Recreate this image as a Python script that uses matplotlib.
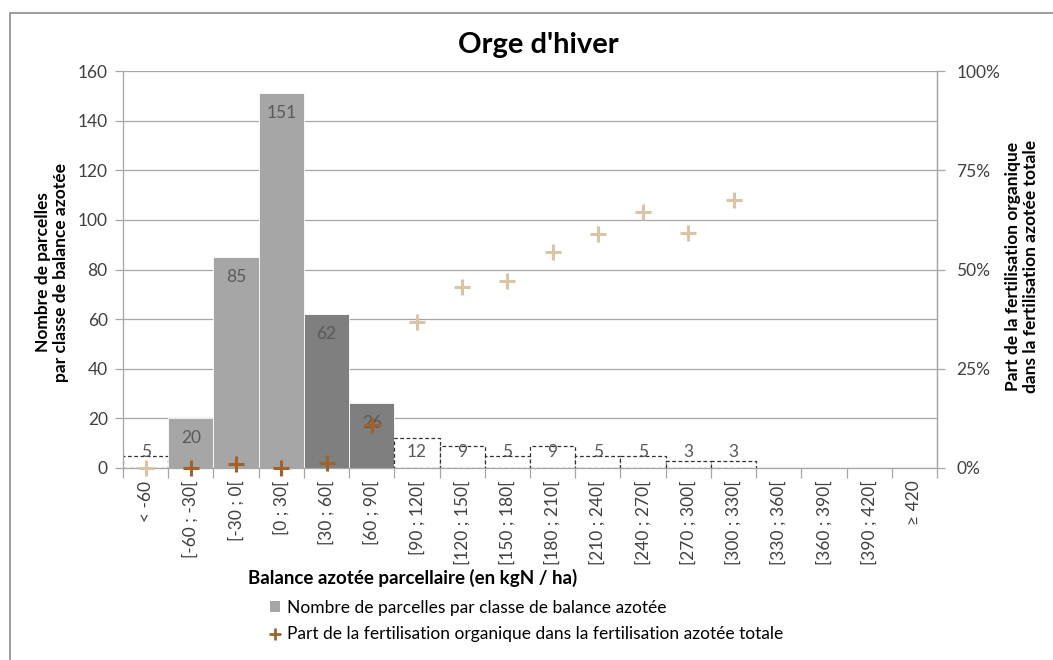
import matplotlib
matplotlib.use("Agg")
import matplotlib.pyplot as plt
import numpy as np
from matplotlib.patches import Rectangle, Patch
from matplotlib.lines import Line2D

plt.rcParams['font.family'] = ['Lato', 'DejaVu Sans']

# ---------------- data ----------------
categories = ["< -60", "[-60 ; -30[", "[-30 ; 0[", "[0 ; 30[", "[30 ; 60[", "[60 ; 90[",
              "[90 ; 120[", "[120 ; 150[", "[150 ; 180[", "[180 ; 210[", "[210 ; 240[",
              "[240 ; 270[", "[270 ; 300[", "[300 ; 330[", "[330 ; 360[", "[360 ; 390[",
              "[390 ; 420[", "≥ 420"]
counts = [5, 20, 85, 151, 62, 26, 12, 9, 5, 9, 5, 5, 3, 3, 0, 0, 0, 0]
organic_share = [0.0, 0.0, 0.01, 0.0, 0.013, 0.108, 0.368, 0.456, 0.472, 0.545, 0.59,
                 0.646, 0.593, 0.676, None, None, None, None]
left_ticks = [0, 20, 40, 60, 80, 100, 120, 140, 160]
right_ticks = [0, 0.25, 0.5, 0.75, 1.0]

title = "Orge d'hiver"
xlabel = "Balance azotée parcellaire (en kgN / ha)"
ylabel_left = "Nombre de parcelles\npar classe de balance azotée"
ylabel_right = "Part de la fertilisation organique\ndans la fertilisation azotée totale"
legend_bar = "Nombre de parcelles par classe de balance azotée"
legend_pts = "Part de la fertilisation organique dans la fertilisation azotée totale"

# ---------------- style ----------------
LIGHT = "#A6A6A6"
DARK = "#7F7F7F"
BROWN = "#A0622A"
TAN = "#D9C4A6"
GRID = "#A6A6A6"
FS = 12.5
# bar style per category: 'light', 'dark' or 'dashed'
bar_style = ['dashed', 'light', 'light', 'light', 'dark', 'dark'] + ['dashed'] * 12
marker_dark = [False, True, True, True, True, True] + [False] * 12

W, H = 1053, 660
fig = plt.figure(figsize=(W / 100, H / 100), dpi=100)
fig.patch.set_facecolor("white")

# outer chart frame
fig.patches.append(Rectangle((10 / W, -0.2), 2, (1 - 13 / H) + 0.2, transform=fig.transFigure,
                             fill=False, edgecolor="#8C8C8C", linewidth=1.2, zorder=0))

L, R, T, B = 123, 937, 71, 468
ax = fig.add_axes([L / W, 1 - B / H, (R - L) / W, (B - T) / H])
ax.set_facecolor("none")
ax.set_xlim(-0.5, len(categories) - 0.5)
ax.set_ylim(0, 160)

x = np.arange(len(categories))

# bars
for i, (v, st) in enumerate(zip(counts, bar_style)):
    if v <= 0:
        continue
    if st == 'light':
        ax.bar(x[i], v, width=1.0, color=LIGHT, edgecolor="white", linewidth=0.6, zorder=2)
    elif st == 'dark':
        ax.bar(x[i], v, width=1.0, color=DARK, edgecolor="white", linewidth=0.6, zorder=2)
    else:
        ax.bar(x[i], v, width=1.0, facecolor="white", edgecolor="#303030", linewidth=0.9,
               linestyle=(0, (3, 2)), zorder=2)

# bar value labels (inside end, clamped near the axis)
for i, v in enumerate(counts):
    if v <= 0:
        continue
    ypos = max(v - 8.0, 6.4)
    ax.text(x[i], ypos, str(v), ha="center", va="center", color="#595959",
            fontsize=FS, zorder=4)

# gridlines
ax.set_yticks(left_ticks)
ax.yaxis.grid(True, color=GRID, linewidth=0.9, zorder=0)
ax.set_axisbelow(True)
ax.set_yticklabels([str(t) for t in left_ticks], fontsize=FS, color="#404040")
ax.tick_params(axis="y", direction="out", length=6, width=0.9, color=GRID, pad=5)

# x ticks: labels at centres, marks at boundaries
ax.set_xticks(x)
ax.set_xticklabels(categories, rotation=90, fontsize=FS, color="#404040", va="top", ha="center")
ax.tick_params(axis="x", which="major", length=0, pad=9)
ax.set_xticks(np.arange(-0.5, len(categories), 1.0), minor=True)
ax.tick_params(axis="x", which="minor", direction="out", length=7, width=0.9, color=GRID)

ax.spines["top"].set_visible(False)
for s in ["left", "bottom", "right"]:
    ax.spines[s].set_color(GRID)
    ax.spines[s].set_linewidth(0.9)

# secondary axis
ax2 = ax.twinx()
ax2.set_ylim(0, 1)
ax2.set_yticks(right_ticks)
ax2.set_yticklabels([f"{int(t * 100)}%" for t in right_ticks], fontsize=FS, color="#404040")
ax2.tick_params(axis="y", direction="out", length=6, width=0.9, color=GRID, pad=8)
for s in ["top", "left", "bottom"]:
    ax2.spines[s].set_visible(False)
ax2.spines["right"].set_color(GRID)
ax2.spines["right"].set_linewidth(0.9)

xd = [x[i] for i in range(len(x)) if organic_share[i] is not None and marker_dark[i]]
yd = [organic_share[i] for i in range(len(x)) if organic_share[i] is not None and marker_dark[i]]
xl = [x[i] for i in range(len(x)) if organic_share[i] is not None and not marker_dark[i]]
yl = [organic_share[i] for i in range(len(x)) if organic_share[i] is not None and not marker_dark[i]]
ax2.plot(xl, yl, linestyle="none", marker="+", markersize=11, markeredgewidth=2.2,
         color=TAN, clip_on=False, zorder=5)
ax2.plot(xd, yd, linestyle="none", marker="+", markersize=11, markeredgewidth=2.2,
         color=BROWN, clip_on=False, zorder=5)

# titles
fig.text(538 / W, 1 - 45 / H, title, ha="center", va="center", fontsize=21, fontweight="bold")
fig.text(413 / W, 1 - 578 / H, xlabel, ha="center", va="center", fontsize=13.5, fontweight="bold")
fig.text(52 / W, 1 - 272 / H, ylabel_left, ha="center", va="center", rotation=90,
         fontsize=FS, fontweight="bold", linespacing=1.1)
fig.text(1022 / W, 1 - 266 / H, ylabel_right, ha="center", va="center", rotation=90,
         fontsize=FS, fontweight="bold", linespacing=1.1)

# legend
handles = [Patch(facecolor=LIGHT, edgecolor="none"),
           Line2D([], [], linestyle="none", marker="+", markersize=9, markeredgewidth=2.0, color=BROWN)]
fig.legend(handles, [legend_bar, legend_pts], loc="upper left",
           bbox_to_anchor=(270 / W, 1 - 600 / H), frameon=False, fontsize=FS,
           handlelength=0.6, handleheight=0.6, handletextpad=0.4, labelspacing=0.6,
           borderaxespad=0, borderpad=0)

fig.savefig("out.png", dpi=100)
